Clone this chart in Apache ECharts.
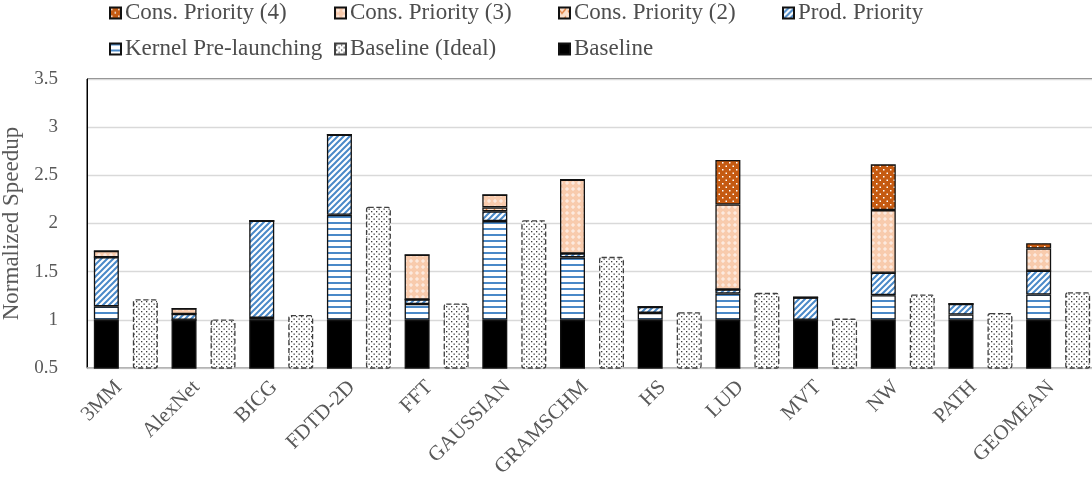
<!DOCTYPE html>
<html>
<head>
<meta charset="utf-8">
<script src="https://cdn.jsdelivr.net/npm/echarts@6/dist/echarts.min.js"></script>
<style>
  html, body { margin: 0; padding: 0; background: #fff; }
  #chart { width: 1092px; height: 493px; }
</style>
</head>
<body>
<div id="chart"></div>
<script>
// Benchmarks on the x axis
const categories = ['3MM', 'AlexNet', 'BICG', 'FDTD-2D', 'FFT', 'GAUSSIAN', 'GRAMSCHM',
  'HS', 'LUD', 'MVT', 'NW', 'PATH', 'GEOMEAN'];

// Stacked speedup components (each value is the increment over the segment below)
const baseline        = [1, 1, 1, 1, 1, 1, 1, 1, 1, 1, 1, 1, 1];
const kernelPrelaunch = [0.14, 0, 0.02, 1.09, 0.165, 1.025, 0.648, 0.072, 0.273, 0, 0.256, 0.055, 0.263];
const prodPriority    = [0.51, 0.061, 1.008, 0.832, 0.046, 0.101, 0.041, 0.062, 0.042, 0.232, 0.232, 0.11, 0.246];
const consPriority2   = [0, 0, 0, 0, 0, 0.041, 0, 0, 0, 0, 0, 0, 0];
const consPriority3   = [0.065, 0.056, 0, 0, 0.464, 0.131, 0.765, 0, 0.883, 0, 0.651, 0, 0.232];
const consPriority4   = [0, 0, 0, 0, 0, 0, 0, 0, 0.461, 0, 0.475, 0, 0.055];

// Ideal baseline speedup (separate bar)
const baselineIdeal   = [1.214, 1.003, 1.051, 2.174, 1.169, 2.035, 1.654, 1.079, 1.28, 1.013, 1.263, 1.072, 1.287];

// Y axis ticks
const yMin = 0.5, yMax = 3.5, yStep = 0.5;

const FONT = "'Liberation Serif', 'Times New Roman', serif";

// ---- fill patterns ----
function pattern(w, h, bg, draw) {
  const c = document.createElement('canvas');
  c.width = w; c.height = h;
  const ctx = c.getContext('2d');
  ctx.fillStyle = bg;
  ctx.fillRect(0, 0, w, h);
  draw(ctx);
  return { image: c, repeat: 'repeat' };
}
const BLUE = '#4a89c8';

const horizLines = pattern(6, 6, '#ffffff', ctx => {
  ctx.fillStyle = BLUE;
  ctx.fillRect(0, 0, 6, 2);
});
const diagStripes = pattern(6, 6, '#ffffff', ctx => {
  ctx.strokeStyle = BLUE;
  ctx.lineWidth = 2;
  ctx.beginPath();
  ctx.moveTo(-1, 7); ctx.lineTo(7, -1);
  ctx.moveTo(-4, 4); ctx.lineTo(4, -4);
  ctx.moveTo(2, 10); ctx.lineTo(10, 2);
  ctx.stroke();
});
const checkMarks = pattern(8, 8, '#fbe0cc', ctx => {
  ctx.strokeStyle = '#e07a36';
  ctx.lineWidth = 1.3;
  ctx.beginPath();
  ctx.moveTo(1, 3); ctx.lineTo(3, 6); ctx.lineTo(7, 1);
  ctx.stroke();
});
const peachCross = pattern(6, 6, '#f8cbad', ctx => {
  ctx.fillStyle = 'rgba(255,255,255,0.75)';
  ctx.fillRect(2.5, 1, 1, 4);
  ctx.fillRect(1, 2.5, 4, 1);
});
const orangeDots = pattern(7, 7, '#c55a11', ctx => {
  ctx.fillStyle = '#ffffff';
  ctx.fillRect(1, 1, 1.5, 1.5);
  ctx.fillRect(4.5, 4.5, 1.5, 1.5);
});
const grayDots = pattern(5, 5, '#ffffff', ctx => {
  ctx.fillStyle = '#3a3a3a';
  ctx.fillRect(1, 1, 1.3, 1.3);
  ctx.fillRect(3.5, 3.5, 1.3, 1.3);
});

const border = { borderColor: '#111111', borderWidth: 1.3 };

function stackSeries(name, data, color) {
  return {
    name, type: 'bar', stack: 'total', data,
    barWidth: 25, barGap: '56%',
    itemStyle: Object.assign({ color }, border),
    emphasis: { disabled: true }
  };
}

const series = [
  stackSeries('Baseline', baseline, '#000000'),
  stackSeries('Kernel Pre-launching', kernelPrelaunch, horizLines),
  stackSeries('Prod. Priority', prodPriority, diagStripes),
  stackSeries('Cons. Priority (2)', consPriority2, checkMarks),
  stackSeries('Cons. Priority (3)', consPriority3, peachCross),
  stackSeries('Cons. Priority (4)', consPriority4, orangeDots),
  {
    name: 'Baseline (Ideal)', type: 'bar', data: baselineIdeal,
    barWidth: 25, barGap: '56%',
    itemStyle: { color: grayDots, borderColor: '#404040', borderWidth: 1.3, borderType: 'dashed', borderRadius: 2 },
    emphasis: { disabled: true }
  }
];

// Legend entries laid out in two rows
const legendLayout = [
  ['Cons. Priority (4)', 109, 0],
  ['Cons. Priority (3)', 334, 0],
  ['Cons. Priority (2)', 558, 0],
  ['Prod. Priority', 782, 0],
  ['Kernel Pre-launching', 109, 36],
  ['Baseline (Ideal)', 334, 36],
  ['Baseline', 558, 36]
];
const legends = legendLayout.map(([name, left, top]) => ({
  data: [name], left, top, padding: 0,
  itemWidth: 11, itemHeight: 11, itemGap: 0,
  icon: 'rect',
  textStyle: { fontFamily: FONT, fontSize: 23, color: '#4d4d4d', lineHeight: 26, padding: [0, 0, 0, -1] },
  selectedMode: false
}));

const chart = echarts.init(document.getElementById('chart'), null, { renderer: 'canvas' });
chart.setOption({
  animation: false,
  backgroundColor: '#ffffff',
  legend: legends,
  grid: {
    left: 87, top: 79, width: 1010, height: 289,
    outerBoundsMode: 'none', containLabel: false,
    show: true, borderColor: '#000000', borderWidth: 1, backgroundColor: 'transparent'
  },
  xAxis: {
    type: 'category', data: categories,
    axisTick: { show: false },
    axisLine: { lineStyle: { color: '#bfbfbf', width: 1.5 } },
    axisLabel: { interval: 0, rotate: 45, margin: 9, padding: [0, 10, 0, 0],
      fontFamily: FONT, fontSize: 21, color: '#595959' }
  },
  yAxis: {
    type: 'value', min: yMin, max: yMax, interval: yStep,
    name: 'Normalized Speedup', nameLocation: 'middle', nameGap: 51,
    nameTextStyle: { fontFamily: FONT, fontSize: 23, color: '#595959' },
    axisLine: { show: true, lineStyle: { color: '#000000', width: 1 } },
    axisTick: { show: false },
    splitLine: { lineStyle: { color: '#d9d9d9', width: 1.3 } },
    axisLabel: { margin: 29, fontFamily: FONT, fontSize: 19, color: '#595959' }
  },
  series
});
</script>
</body>
</html>
